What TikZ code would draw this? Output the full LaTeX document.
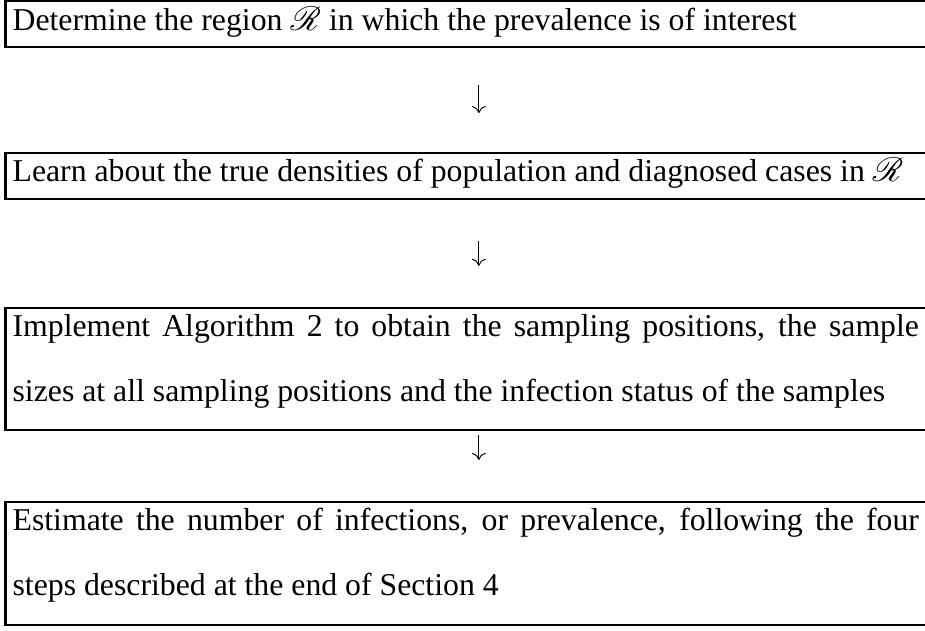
\documentclass[tikz,border=0pt]{standalone}
\usepackage{fontspec}
\usepackage{amsmath,amsfonts}
\usepackage{mathrsfs}
\setmainfont{Liberation Serif}
\usetikzlibrary{arrows.meta}

\hyphenpenalty=10000
\exhyphenpenalty=10000
\newcommand{\firstline}{\rule{0pt}{12.4pt}}
\newcommand{\lastline}[1]{\rule[-#1]{0pt}{#1}}

\begin{document}
\begin{tikzpicture}[x=1pt, y=1pt,
	stepbox/.style={draw, line width=1pt, rectangle, anchor=north west, outer sep=0pt,
		inner xsep=3pt, inner ysep=0pt, text width=388pt, align=justify,
		font=\fontsize{13.6}{27.8}\selectfont},
	flowarrow/.style={-{To[length=3pt,width=6pt]}, line width=0.4pt}]
		\useasboundingbox (0,0) rectangle (396,-270);

		\path (2.4,-0.5) node[stepbox] (s1) {\firstline Determine the region $\mathscr{R}$ in which the prevalence is of interest\lastline{7.2pt}}
		(2.4,-65.5) node[stepbox] (s2) {\firstline Learn about the true densities of population and diagnosed cases in $\mathscr{R}$\lastline{7.3pt}}
		(2.4,-131.8) node[stepbox] (s3) {\firstline Implement Algorithm 2 to obtain the sampling positions, the sample sizes at all sampling positions and the infection status of the samples\lastline{12pt}}
		(2.4,-214.9) node[stepbox] (s4) {\firstline Estimate the number of infections, or prevalence, following the four steps described at the end of Section 4\lastline{12.4pt}};

		\path (205,-36.4) coordinate (a1) (205,-48.4) coordinate (b1)
		(205,-103.2) coordinate (a2) (205,-113.8) coordinate (b2)
		(205,-186.2) coordinate (a3) (205,-196.9) coordinate (b3);

		\draw[flowarrow] (a1) -- (b1);
		\draw[flowarrow] (a2) -- (b2);
		\draw[flowarrow] (a3) -- (b3);
	\end{tikzpicture}
\end{document}
